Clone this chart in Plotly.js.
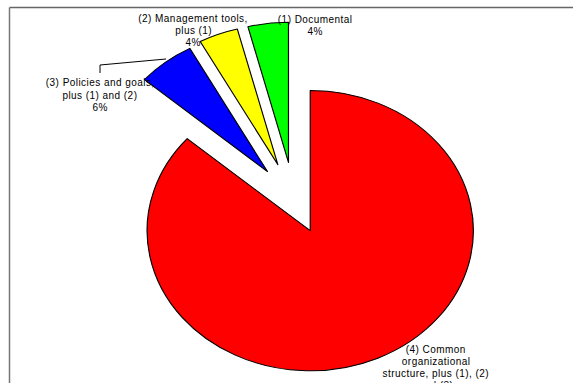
<!DOCTYPE html>
<html>
<head>
<meta charset="utf-8">
<script src="https://cdn.plot.ly/plotly-3.0.1.min.js"></script>
<style>
html,body{margin:0;padding:0;background:#fff;overflow:hidden;width:573px;height:383px;}
#pie{position:absolute;left:0;top:0;width:573px;height:383px;transform-origin:294px 200px;transform:scaleX(1.164);}
#over{position:absolute;left:0;top:0;width:573px;height:383px;}
#over .annotation-text{letter-spacing:0.45px;}
</style>
</head>
<body>
<div id="pie"></div>
<div id="over"></div>
<script>
// ---- data ----
const categories = [
  '(4) Common organizational structure, plus (1), (2) and (3)',
  '(3) Policies and goals, plus (1) and (2)',
  '(2) Management tools, plus (1)',
  '(1) Documental'
];
const values = [86.4, 5.7, 3.9, 4.0];
const labelLines = [
  ['(4) Common', 'organizational', 'structure, plus (1), (2)', 'and (3)'],
  ['(3) Policies and goals,', 'plus (1) and (2)'],
  ['(2) Management tools,', 'plus (1)'],
  ['(1) Documental']
];
const colors = ['#FF0000', '#0000FF', '#FFFF00', '#00FF00'];

// ---- pie ----
Plotly.newPlot('pie', [{
  type: 'pie',
  labels: categories,
  values: values,
  sort: false,
  direction: 'clockwise',
  rotation: 0,
  pull: [0.24, 0.26, 0.27, 0.27],
  marker: {colors: colors, line: {color: '#000', width: 1}},
  textinfo: 'none',
  hoverinfo: 'none'
}], {
  width: 573, height: 383,
  margin: {l: 116, r: 101, t: 22, b: 5},
  showlegend: false,
  paper_bgcolor: '#fff'
}, {staticPlot: true});

// ---- labels / frame overlay ----
const W = 573, H = 383;
const total = values.reduce((a, b) => a + b, 0);
const labelTop = [[436, 349], [100, 83], [193, 18], [315, 19.5]];
const lineGap = 12.2;
const annotations = [];
categories.forEach((c, i) => {
  const lines = labelLines[i].concat([Math.round(values[i] / total * 100) + '%']);
  lines.forEach((t, k) => {
    annotations.push({
      x: labelTop[i][0] / W, y: 1 - (labelTop[i][1] + k * lineGap) / H,
      xref: 'paper', yref: 'paper',
      text: t, showarrow: false, xanchor: 'center', yanchor: 'middle', align: 'center',
      font: {family: 'Liberation Sans, Arial, sans-serif', size: 10, color: '#000'}
    });
  });
});

Plotly.newPlot('over', [{type: 'scatter', x: [], y: []}], {
  width: W, height: H,
  margin: {l: 0, r: 0, t: 0, b: 0},
  paper_bgcolor: 'rgba(0,0,0,0)', plot_bgcolor: 'rgba(0,0,0,0)',
  showlegend: false,
  xaxis: {range: [0, W], visible: false, fixedrange: true},
  yaxis: {range: [H, 0], visible: false, fixedrange: true},
  annotations: annotations,
  shapes: [
    {type: 'line', xref: 'x', yref: 'y', x0: 9.5, y0: 7.5, x1: 573, y1: 7.5, line: {color: '#666', width: 1.5}},
    {type: 'line', xref: 'x', yref: 'y', x0: 9.5, y0: 7.5, x1: 9.5, y1: 383, line: {color: '#777', width: 1.5}},
    {type: 'path', xref: 'x', yref: 'y', path: 'M 100 73 L 100 65 L 166 59', line: {color: '#000', width: 1}}
  ]
}, {staticPlot: true});
</script>
</body>
</html>
